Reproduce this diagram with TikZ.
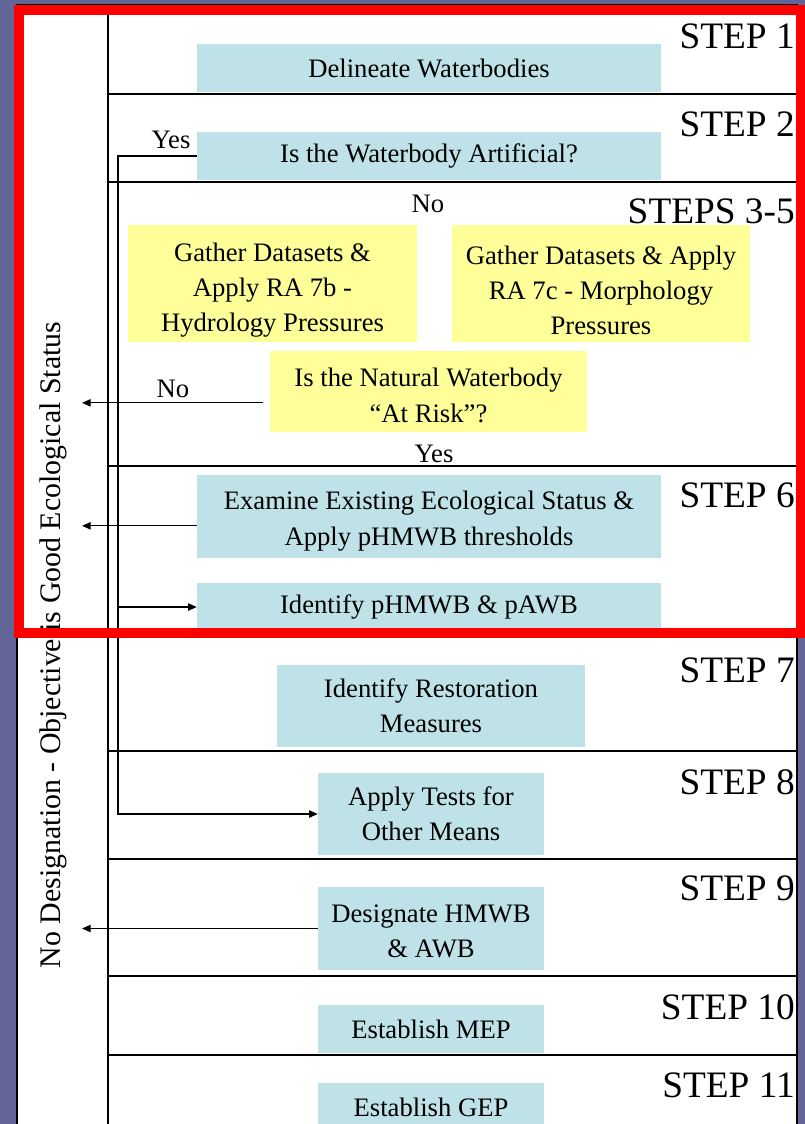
\documentclass[tikz,border=0pt]{standalone}
\usepackage{fontspec}
\setmainfont{Liberation Serif}
\usepackage{tikz}
\usetikzlibrary{arrows.meta, positioning}
\usepackage{xcolor}
\definecolor{slate}{HTML}{636599}
\definecolor{paleblue}{HTML}{BFE2E8}
\definecolor{paleyellow}{HTML}{FFFF99}
\definecolor{alertred}{HTML}{FF0000}
\newcommand{\lowered}[1]{\rule{0pt}{#1}}

\begin{document}
\begin{tikzpicture}[x=0.75pt, y=-0.75pt,
        bluebox/.style={fill=paleblue, inner sep=0pt, align=center, font=\fontsize{20}{26.5}\selectfont},
        yellowbox/.style={fill=paleyellow, inner sep=0pt, align=center, font=\fontsize{20}{26.5}\selectfont},
        steplabel/.style={anchor=base east, inner sep=0pt, font=\fontsize{28}{30}\selectfont},
        answer/.style={anchor=base, inner sep=0pt, font=\fontsize{20}{24}\selectfont},
        rule/.style={line width=1.2pt},
        link/.style={line width=0.9pt},
        arrowline/.style={link, -{Triangle[length=6.5pt, width=5.5pt]}}]
    \useasboundingbox (0,0) rectangle (805,1124);
    \clip (0,0) rectangle (805,1124);
    \fill[slate] (0,0) rectangle (805,1124);
    \draw[fill=white, line width=1.5pt] (17,5) rectangle (797,1140);

    % table rules
    \draw[line width=2pt] (108,5) -- (108,1124);
    \foreach \yy in {94,182,466,751,859,976,1055}
        \draw[rule] (108,\yy) -- (797,\yy);

    % step column
    \foreach \yy/\lab [count=\i] in {49/STEP 1, 137/STEP 2, 223/STEPS 3-5, 507/STEP 6,
            682/STEP 7, 794/STEP 8, 900/STEP 9, 1019/STEP 10, 1097/STEP 11}
        \node[steplabel] (step\i) at (795,\yy) {\lab};

    \node[bluebox, minimum width=348pt, minimum height=36pt] (delineate) at (429,68) {Delineate Waterbodies};
    \node[bluebox, minimum width=348pt, minimum height=36pt] (artificial) at (429,156) {Is the Waterbody Artificial?};
    \node[yellowbox, minimum width=216.75pt, minimum height=87.75pt] (hydro) at (272.5,283.5)
        {\lowered{24pt}Gather Datasets \&\\Apply RA 7b -\\Hydrology Pressures};
    \node[yellowbox, minimum width=223.5pt, minimum height=87.75pt] (morpho) at (601,283.5)
        {\lowered{24pt}Gather Datasets \& Apply\\RA 7c - Morphology\\Pressures};
    \node[yellowbox, minimum width=237.75pt, minimum height=60.75pt] (atrisk) at (428.5,391.5)
        {\lowered{20pt}Is the Natural Waterbody\\“At Risk”?};
    \node[bluebox, minimum width=348pt, minimum height=62.25pt] (examine) at (429,516.5)
        {\lowered{21pt}Examine Existing Ecological Status \&\\Apply pHMWB thresholds};
    \node[bluebox, minimum width=348pt, minimum height=36pt] (identify) at (429,607) {Identify pHMWB \& pAWB};
    \node[bluebox, minimum width=231pt, minimum height=61.5pt] (restore) at (431,706) {Identify Restoration\\Measures};
    \node[bluebox, minimum width=169.5pt, minimum height=61.5pt] (tests) at (431,814) {Apply Tests for\\Other Means};
    \node[bluebox, minimum width=169.5pt, minimum height=62.25pt] (designate) at (431,928.5)
        {\lowered{18pt}Designate HMWB\\\& AWB};
    \node[bluebox, minimum width=169.5pt, minimum height=36pt] (mep) at (431,1029) {Establish MEP};
    \node[bluebox, minimum width=169.5pt, minimum height=36pt] (gep) at (431,1107) {Establish GEP};

    \node[answer] (yestop) at (171,148) {Yes};
    \node[answer] (nomid) at (428,212) {No};
    \node[answer] (noleft) at (173,397) {No};
    \node[answer] (yesmid) at (434,462) {Yes};

    \node[rotate=90, anchor=base, inner sep=0pt, font=\fontsize{22.4}{24}\selectfont] (objective) at (60,645)
        {No Designation - Objective is Good Ecological Status};

    % connectors
    \coordinate (yesx) at (118,0);
    \coordinate (outx) at (82,0);
    \draw[arrowline] (artificial.west) -| (tests.west -| yesx) -- (tests.west);
    \draw[arrowline] (identify.west -| yesx) -- (identify.west);
    \draw[arrowline] ([xshift=-5pt, yshift=-8.5pt]atrisk.west) -- ([yshift=-8.5pt]atrisk.west -| outx);
    \draw[arrowline] ([yshift=-7pt]examine.west) -- ([yshift=-7pt]examine.west -| outx);
    \draw[arrowline] (designate.west) -- (designate.west -| outx);

    \draw[alertred, line width=7.5pt] (19,10) rectangle (801,633);
\end{tikzpicture}
\end{document}
